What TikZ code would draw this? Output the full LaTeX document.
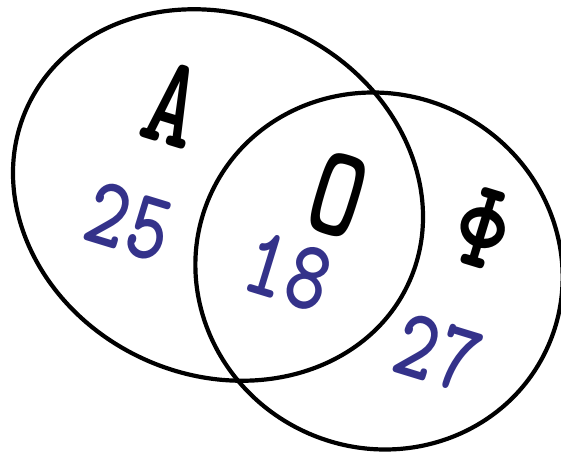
\documentclass[tikz,border=0pt]{standalone}
\usepackage{fontspec}
\usepackage{xcolor}
\usetikzlibrary{shapes.geometric}
\definecolor{azulnum}{RGB}{52,50,138}

\begin{document}
\begin{tikzpicture}[x=1pt, y=1pt,
    conjunto/.style={draw, ellipse, line width=4.2pt, inner sep=0pt, rotate=-25},
    numero/.style={rotate=-17, yscale=1.25, inner sep=0pt, text=azulnum,
        font=\ttfamily\bfseries\fontsize{80}{80}\selectfont},
    letra/.style={rotate=-17, yscale=1.3, inner sep=0pt,
        font=\ttfamily\bfseries\fontsize{100}{100}\selectfont}]
    \useasboundingbox (0,0) rectangle (561,461);

    % Conjuntos
    \node[conjunto, minimum width=420pt, minimum height=360pt] (A) at (218,266) {};
    \node[conjunto, minimum width=370pt, minimum height=354pt] (F) at (379,190) {};

    % Nombres de los conjuntos
    \node[letra] (lA) at (173,357) {A};
    \node[letra] (lO) at (338,266) {O};
    \node[letra] (lF) at (483,233) {Φ};

    % Cantidades de cada zona
    \node[numero] (n25) at (129,239) {25};
    \node[numero] (n18) at (288,189) {18};
    \node[numero] (n27) at (438,108) {27};
\end{tikzpicture}
\end{document}
